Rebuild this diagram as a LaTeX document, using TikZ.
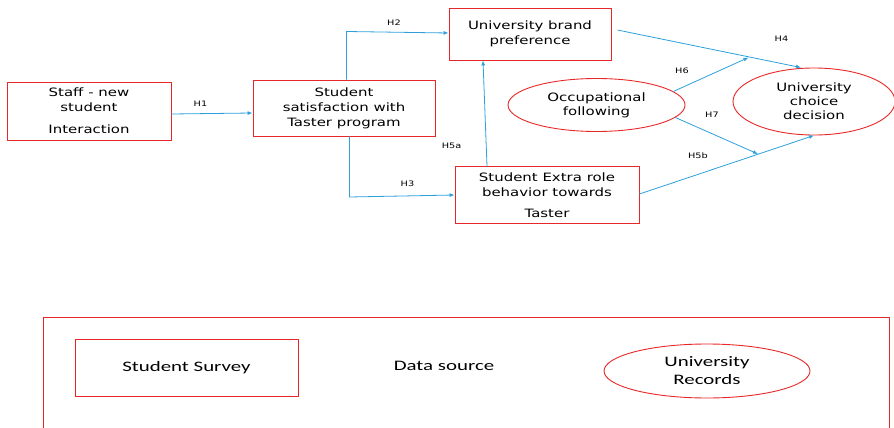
\documentclass[tikz,border=0pt]{standalone}
\usepackage{fontspec}
\setmainfont{DejaVu Sans}[FakeStretch=1.3]
\newfontfamily\calib{Carlito}[FakeStretch=1.44]
\usetikzlibrary{arrows.meta,shapes.geometric}
\definecolor{boxred}{RGB}{232,40,40}
\definecolor{arrblue}{RGB}{45,160,220}
\begin{document}
\begin{tikzpicture}[x=1pt,y=-1pt,
  box/.style={draw=boxred,line width=0.9pt,rectangle,inner sep=0pt,align=center,
    font=\fontsize{11.5}{15}\selectfont},
  oval/.style={draw=boxred,line width=0.9pt,ellipse,inner sep=0pt,align=center,
    font=\fontsize{11.5}{14}\selectfont},
  srcbox/.style={draw=boxred,line width=0.9pt,rectangle,inner sep=0pt,align=center,
    font=\calib\fontsize{14.5}{18}\selectfont},
  srcoval/.style={draw=boxred,line width=0.9pt,ellipse,inner sep=0pt,align=center,
    font=\calib\fontsize{14.5}{18}\selectfont},
  srctext/.style={inner sep=0pt,font=\calib\fontsize{14.5}{18}\selectfont},
  link/.style={draw=arrblue,line width=0.8pt,-{Latex[length=5pt,width=4pt]}},
  hlab/.style={inner sep=0pt,font=\fontsize{7.5}{9}\selectfont}]
\useasboundingbox (0,0) rectangle (894,428);

% main nodes
\node[box,minimum width=164pt,minimum height=58pt] (staff) at (89,111)
  {Staff - new\\student\\[7pt]Interaction};
\node[box,minimum width=182pt,minimum height=56pt] (sat) at (344,108)
  {Student\\satisfaction with\\Taster program};
\node[box,minimum width=162pt,minimum height=52pt] (brand) at (530,34)
  {University brand\\preference};
\node[box,minimum width=184pt,minimum height=57pt] (extra) at (547,195)
  {Student Extra role\\behavior towards\\[6pt]Taster};
\node[oval,minimum width=177pt,minimum height=53pt] (occ) at (596.5,105)
  {Occupational\\following};
\node[oval,minimum width=162pt,minimum height=67pt] (choice) at (814,101.5)
  {University\\choice\\decision};

% bend and junction points
\coordinate (c2) at (346.5,31.5);
\coordinate (c3) at (349.5,197);
\coordinate (h4mid) at (748.5,57.5);
\coordinate (h5mid) at (758,154);

% connectors
\draw[link] ([yshift=-3pt]staff.east) -- ([yshift=-5pt]sat.west);
\draw[link] ([xshift=2.5pt]sat.north) -- (c2) -- ([yshift=1pt]brand.west);
\draw[link] ([xshift=5.5pt]sat.south) -- (c3) -- (extra.west);
\draw[link] ([xshift=-60pt]extra.north) -- ([xshift=-47pt]brand.south);
\draw[link] ([shift={(6pt,4pt)}]brand.east) -- ([xshift=-13pt]choice.north);
\draw[link] (occ.10) -- (h4mid);
\draw[link] (occ.-9) -- (h5mid);
\draw[link] ([yshift=1pt]extra.east) -- (choice.south);

% connector labels
\node[hlab] (lh1) at (200.5,104) {H1};
\node[hlab] (lh2) at (394,23) {H2};
\node[hlab] (lh3) at (407.5,184) {H3};
\node[hlab] (lh5a) at (451.5,145.5) {H5a};
\node[hlab] (lh4) at (781.5,39) {H4};
\node[hlab] (lh6) at (682,71) {H6};
\node[hlab] (lh7) at (712,115) {H7};
\node[hlab] (lh5b) at (698,156) {H5b};

% data source legend
\draw[boxred,line width=0.9pt] (43,432) -- (43,317) -- (889,317) -- (889,432);
\node[srcbox,minimum width=223pt,minimum height=57pt] (survey) at (186.5,367.5) {Student Survey};
\node[srctext] (datasrc) at (444,366) {Data source};
\node[srcoval,minimum width=206pt,minimum height=54pt] (records) at (707,371)
  {University\\Records};
\end{tikzpicture}
\end{document}
